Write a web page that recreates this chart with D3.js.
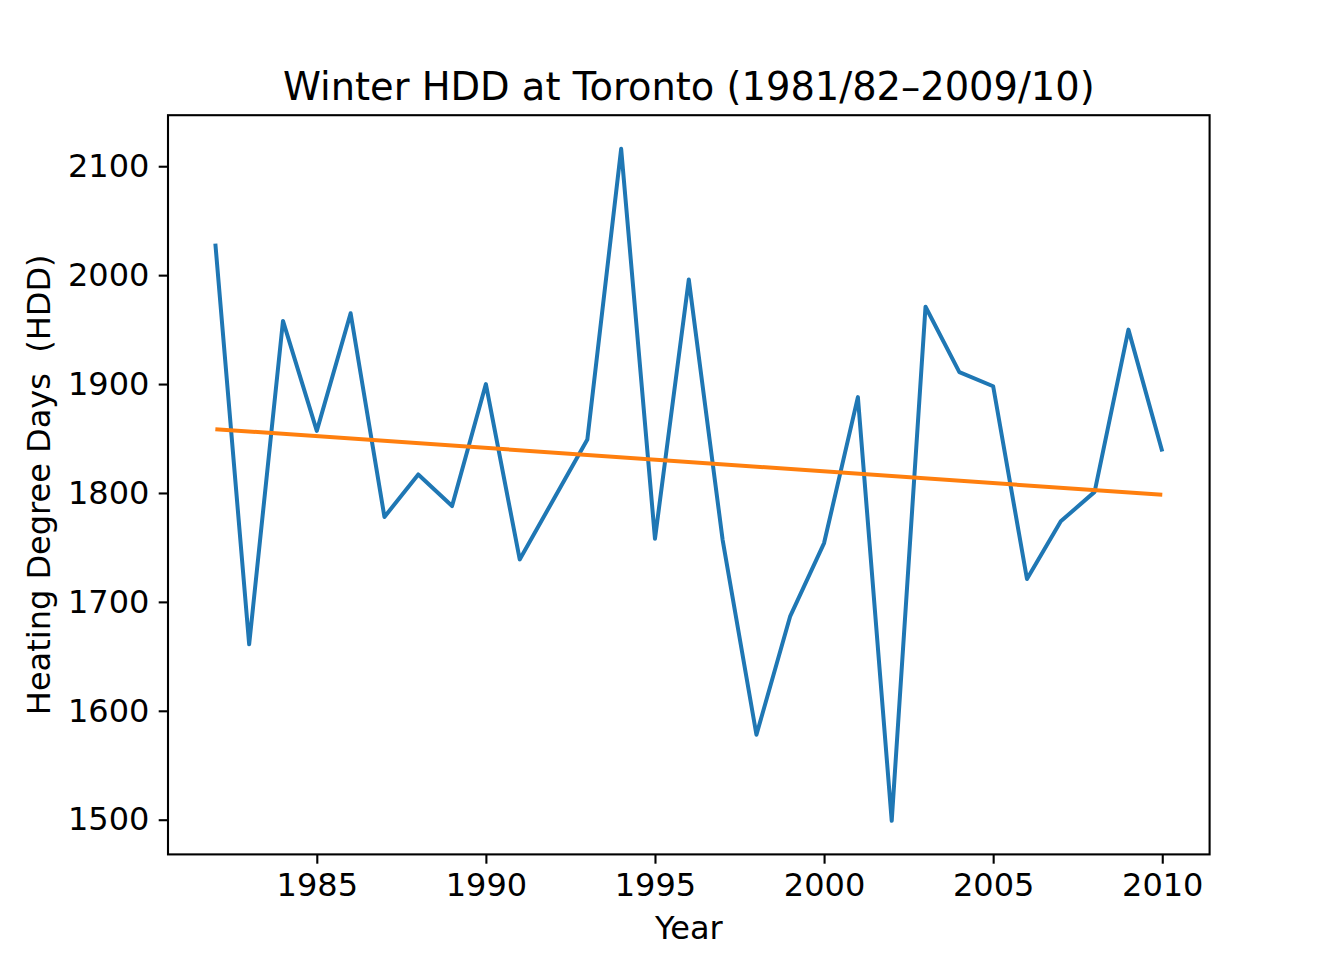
<!DOCTYPE html>
<html>
<head>
<meta charset="utf-8">
<script src="https://cdn.jsdelivr.net/npm/d3@7"></script>
<style>
  html, body { margin: 0; padding: 0; background: #fff; }
  svg { display: block; }
  text { font-family: "DejaVu Sans", sans-serif; fill: #000; }
</style>
</head>
<body>
<svg id="chart" width="1344" height="960"></svg>
<script>
// ---- data ----
const years = [1982, 1983, 1984, 1985, 1986, 1987, 1988, 1989, 1990, 1991,
               1992, 1993, 1994, 1995, 1996, 1997, 1998, 1999, 2000, 2001,
               2002, 2003, 2004, 2005, 2006, 2007, 2008, 2009, 2010];
const hdd = [2029, 1661, 1958, 1857, 1965, 1778, 1817, 1788, 1900, 1739,
             1794, 1849, 2116, 1758, 1996, 1757, 1578, 1687, 1754, 1888,
             1499, 1971, 1911, 1898, 1721, 1774, 1801, 1950, 1838];
const trendYears = [1982, 2010];
const trendValues = [1858.6, 1798.3];
const xTicks = [1985, 1990, 1995, 2000, 2005, 2010];
const yTicks = [1500, 1600, 1700, 1800, 1900, 2000, 2100];
const titleText = "Winter HDD at Toronto (1981/82\u20132009/10)";
const xLabel = "Year";
const yLabel = "Heating Degree Days  (HDD)";

// ---- layout ----
const mLeft = 168, mRight = 1209.6, mTop = 115.2, mBottom = 854.4;
const svg = d3.select("#chart");

const xExt = d3.extent(years), xPad = (xExt[1] - xExt[0]) * 0.05;
const yExt = d3.extent(hdd.concat(trendValues)), yPad = (yExt[1] - yExt[0]) * 0.05;
const x = d3.scaleLinear().domain([xExt[0] - xPad, xExt[1] + xPad]).range([mLeft, mRight]);
const y = d3.scaleLinear().domain([yExt[0] - yPad, yExt[1] + yPad]).range([mBottom, mTop]);

const fontSize = 32;
const tickLen = 9.3, tickPad = 9.3;

// lines
const line = d3.line().x(d => x(d[0])).y(d => y(d[1]));
svg.append("path")
  .datum(years.map((yr, i) => [yr, hdd[i]]))
  .attr("d", line)
  .attr("fill", "none")
  .attr("stroke", "#1f77b4")
  .attr("stroke-width", 4)
  .attr("stroke-linejoin", "round")
  .attr("stroke-linecap", "butt");

svg.append("path")
  .datum(trendYears.map((yr, i) => [yr, trendValues[i]]))
  .attr("d", line)
  .attr("fill", "none")
  .attr("stroke", "#ff7f0e")
  .attr("stroke-width", 4);

// axes
const xAxis = d3.axisBottom(x).tickValues(xTicks).tickFormat(d3.format("d"))
  .tickSizeInner(tickLen).tickSizeOuter(0).tickPadding(tickPad);
const yAxis = d3.axisLeft(y).tickValues(yTicks).tickFormat(d3.format("d"))
  .tickSizeInner(tickLen).tickSizeOuter(0).tickPadding(tickPad);

const gx = svg.append("g").attr("transform", `translate(0,${mBottom})`).call(xAxis);
const gy = svg.append("g").attr("transform", `translate(${mLeft},0)`).call(yAxis);
[gx, gy].forEach(g => {
  g.select(".domain").remove();
  g.selectAll(".tick line").attr("stroke", "#000").attr("stroke-width", 2.1);
  g.selectAll(".tick text").attr("font-size", fontSize)
    .attr("font-family", "DejaVu Sans, sans-serif").attr("fill", "#000");
});

// frame
svg.append("rect")
  .attr("x", mLeft).attr("y", mTop)
  .attr("width", mRight - mLeft).attr("height", mBottom - mTop)
  .attr("fill", "none").attr("stroke", "#000").attr("stroke-width", 2.1);

// labels
svg.append("text")
  .attr("x", (mLeft + mRight) / 2).attr("y", 100)
  .attr("text-anchor", "middle").attr("font-size", 38.4)
  .text(titleText);

svg.append("text")
  .attr("x", (mLeft + mRight) / 2).attr("y", 939)
  .attr("text-anchor", "middle").attr("font-size", fontSize)
  .text(xLabel);

svg.append("text")
  .attr("transform", `translate(50,${(mTop + mBottom) / 2}) rotate(-90)`)
  .attr("text-anchor", "middle").attr("font-size", fontSize)
  .attr("xml:space", "preserve")
  .style("white-space", "pre")
  .text(yLabel);
</script>
</body>
</html>
